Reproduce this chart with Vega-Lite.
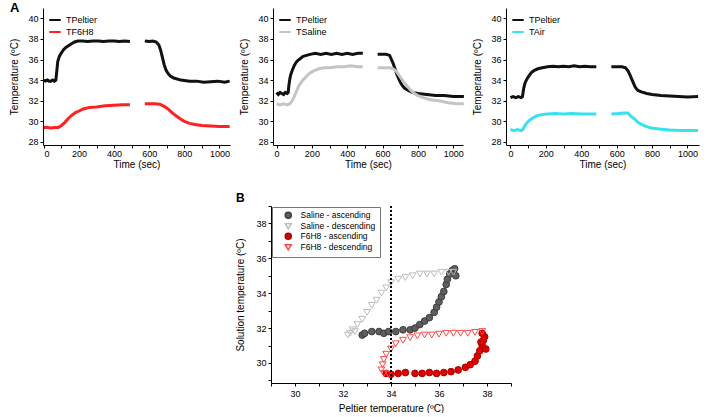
{
  "$schema": "https://vega.github.io/schema/vega-lite/v6.json",
  "padding": {"left": 9, "top": 2, "right": 0, "bottom": 0},
  "background": "white",
  "config": {
    "font": "Liberation Sans",
    "view": {"stroke": null},
    "axis": {"grid": false, "domainColor": "#000", "tickColor": "#000", "labelColor": "#000", "titleColor": "#000", "labelFontSize": 9, "titleFontSize": 10, "titleFontWeight": "normal", "tickSize": 3, "labelPadding": 1},
    "legend": {"title": null, "labelFontSize": 9, "labelColor": "#000"}
  },
  "resolve": {"legend": {"color": "independent", "shape": "independent", "fill": "independent", "stroke": "independent"}, "scale": {"color": "independent", "shape": "independent", "fill": "independent", "stroke": "independent", "x": "independent", "y": "independent"}},
  "datasets": {
    "a1": [
      {"series":"TPeltier","part":1,"time":0,"temp":34.0},{"series":"TPeltier","part":1,"time":10,"temp":33.9},{"series":"TPeltier","part":1,"time":20,"temp":34.0},{"series":"TPeltier","part":1,"time":30,"temp":33.9},{"series":"TPeltier","part":1,"time":40,"temp":33.9},{"series":"TPeltier","part":1,"time":50,"temp":34.0},{"series":"TPeltier","part":1,"time":60,"temp":33.9},{"series":"TPeltier","part":1,"time":68,"temp":34.0},{"series":"TPeltier","part":1,"time":72,"temp":34.6},{"series":"TPeltier","part":1,"time":79,"temp":35.8},{"series":"TPeltier","part":1,"time":88,"temp":36.3},{"series":"TPeltier","part":1,"time":98,"temp":36.6},{"series":"TPeltier","part":1,"time":112,"temp":36.95},{"series":"TPeltier","part":1,"time":127,"temp":37.2},{"series":"TPeltier","part":1,"time":155,"temp":37.5},{"series":"TPeltier","part":1,"time":175,"temp":37.7},{"series":"TPeltier","part":1,"time":193,"temp":37.8},{"series":"TPeltier","part":1,"time":220,"temp":37.8},{"series":"TPeltier","part":1,"time":250,"temp":37.75},{"series":"TPeltier","part":1,"time":280,"temp":37.8},{"series":"TPeltier","part":1,"time":310,"temp":37.8},{"series":"TPeltier","part":1,"time":340,"temp":37.75},{"series":"TPeltier","part":1,"time":370,"temp":37.8},{"series":"TPeltier","part":1,"time":400,"temp":37.8},{"series":"TPeltier","part":1,"time":430,"temp":37.75},{"series":"TPeltier","part":1,"time":460,"temp":37.8},{"series":"TPeltier","part":1,"time":490,"temp":37.75},
      {"series":"TPeltier","part":2,"time":575,"temp":37.8},{"series":"TPeltier","part":2,"time":600,"temp":37.75},{"series":"TPeltier","part":2,"time":620,"temp":37.8},{"series":"TPeltier","part":2,"time":640,"temp":37.7},{"series":"TPeltier","part":2,"time":655,"temp":37.4},{"series":"TPeltier","part":2,"time":665,"temp":36.9},{"series":"TPeltier","part":2,"time":675,"temp":36.2},{"series":"TPeltier","part":2,"time":685,"temp":35.5},{"series":"TPeltier","part":2,"time":695,"temp":35.0},{"series":"TPeltier","part":2,"time":705,"temp":34.7},{"series":"TPeltier","part":2,"time":720,"temp":34.4},{"series":"TPeltier","part":2,"time":740,"temp":34.2},{"series":"TPeltier","part":2,"time":780,"temp":34.0},{"series":"TPeltier","part":2,"time":830,"temp":33.9},{"series":"TPeltier","part":2,"time":870,"temp":33.9},{"series":"TPeltier","part":2,"time":910,"temp":33.8},{"series":"TPeltier","part":2,"time":950,"temp":33.85},{"series":"TPeltier","part":2,"time":990,"temp":33.9},{"series":"TPeltier","part":2,"time":1030,"temp":33.8},{"series":"TPeltier","part":2,"time":1058,"temp":33.9},
      {"series":"TF6H8","part":1,"time":0,"temp":29.4},{"series":"TF6H8","part":1,"time":20,"temp":29.4},{"series":"TF6H8","part":1,"time":40,"temp":29.35},{"series":"TF6H8","part":1,"time":60,"temp":29.4},{"series":"TF6H8","part":1,"time":82,"temp":29.4},{"series":"TF6H8","part":1,"time":100,"temp":29.6},{"series":"TF6H8","part":1,"time":120,"temp":29.9},{"series":"TF6H8","part":1,"time":140,"temp":30.3},{"series":"TF6H8","part":1,"time":160,"temp":30.6},{"series":"TF6H8","part":1,"time":180,"temp":30.85},{"series":"TF6H8","part":1,"time":200,"temp":31.0},{"series":"TF6H8","part":1,"time":225,"temp":31.2},{"series":"TF6H8","part":1,"time":259,"temp":31.35},{"series":"TF6H8","part":1,"time":300,"temp":31.4},{"series":"TF6H8","part":1,"time":350,"temp":31.5},{"series":"TF6H8","part":1,"time":400,"temp":31.55},{"series":"TF6H8","part":1,"time":446,"temp":31.6},{"series":"TF6H8","part":1,"time":490,"temp":31.6},
      {"series":"TF6H8","part":2,"time":575,"temp":31.7},{"series":"TF6H8","part":2,"time":600,"temp":31.7},{"series":"TF6H8","part":2,"time":630,"temp":31.7},{"series":"TF6H8","part":2,"time":660,"temp":31.65},{"series":"TF6H8","part":2,"time":680,"temp":31.5},{"series":"TF6H8","part":2,"time":700,"temp":31.3},{"series":"TF6H8","part":2,"time":720,"temp":31.0},{"series":"TF6H8","part":2,"time":740,"temp":30.7},{"series":"TF6H8","part":2,"time":760,"temp":30.45},{"series":"TF6H8","part":2,"time":780,"temp":30.2},{"series":"TF6H8","part":2,"time":800,"temp":30.0},{"series":"TF6H8","part":2,"time":830,"temp":29.8},{"series":"TF6H8","part":2,"time":860,"temp":29.7},{"series":"TF6H8","part":2,"time":900,"temp":29.6},{"series":"TF6H8","part":2,"time":950,"temp":29.55},{"series":"TF6H8","part":2,"time":1000,"temp":29.5},{"series":"TF6H8","part":2,"time":1058,"temp":29.5}
    ],
    "a2": [
      {"series":"TPeltier","part":1,"time":0,"temp":32.8},{"series":"TPeltier","part":1,"time":10,"temp":32.6},{"series":"TPeltier","part":1,"time":20,"temp":32.8},{"series":"TPeltier","part":1,"time":30,"temp":32.7},{"series":"TPeltier","part":1,"time":40,"temp":32.6},{"series":"TPeltier","part":1,"time":50,"temp":32.8},{"series":"TPeltier","part":1,"time":60,"temp":32.7},{"series":"TPeltier","part":1,"time":66,"temp":32.8},{"series":"TPeltier","part":1,"time":70,"temp":33.5},{"series":"TPeltier","part":1,"time":75,"temp":34.1},{"series":"TPeltier","part":1,"time":80,"temp":34.5},{"series":"TPeltier","part":1,"time":90,"temp":35.0},{"series":"TPeltier","part":1,"time":100,"temp":35.4},{"series":"TPeltier","part":1,"time":110,"temp":35.7},{"series":"TPeltier","part":1,"time":120,"temp":35.9},{"series":"TPeltier","part":1,"time":135,"temp":36.1},{"series":"TPeltier","part":1,"time":150,"temp":36.3},{"series":"TPeltier","part":1,"time":170,"temp":36.4},{"series":"TPeltier","part":1,"time":190,"temp":36.5},{"series":"TPeltier","part":1,"time":220,"temp":36.6},{"series":"TPeltier","part":1,"time":250,"temp":36.5},{"series":"TPeltier","part":1,"time":280,"temp":36.6},{"series":"TPeltier","part":1,"time":310,"temp":36.5},{"series":"TPeltier","part":1,"time":340,"temp":36.6},{"series":"TPeltier","part":1,"time":370,"temp":36.5},{"series":"TPeltier","part":1,"time":400,"temp":36.6},{"series":"TPeltier","part":1,"time":430,"temp":36.5},{"series":"TPeltier","part":1,"time":460,"temp":36.6},{"series":"TPeltier","part":1,"time":488,"temp":36.6},
      {"series":"TPeltier","part":2,"time":572,"temp":36.5},{"series":"TPeltier","part":2,"time":600,"temp":36.5},{"series":"TPeltier","part":2,"time":620,"temp":36.5},{"series":"TPeltier","part":2,"time":640,"temp":36.4},{"series":"TPeltier","part":2,"time":650,"temp":36.0},{"series":"TPeltier","part":2,"time":660,"temp":35.6},{"series":"TPeltier","part":2,"time":670,"temp":35.1},{"series":"TPeltier","part":2,"time":680,"temp":34.6},{"series":"TPeltier","part":2,"time":690,"temp":34.2},{"series":"TPeltier","part":2,"time":700,"temp":33.8},{"series":"TPeltier","part":2,"time":710,"temp":33.5},{"series":"TPeltier","part":2,"time":725,"temp":33.2},{"series":"TPeltier","part":2,"time":745,"temp":33.0},{"series":"TPeltier","part":2,"time":770,"temp":32.8},{"series":"TPeltier","part":2,"time":800,"temp":32.7},{"series":"TPeltier","part":2,"time":850,"temp":32.6},{"series":"TPeltier","part":2,"time":900,"temp":32.5},{"series":"TPeltier","part":2,"time":950,"temp":32.5},{"series":"TPeltier","part":2,"time":1000,"temp":32.4},{"series":"TPeltier","part":2,"time":1060,"temp":32.4},
      {"series":"TSaline","part":1,"time":0,"temp":31.7},{"series":"TSaline","part":1,"time":20,"temp":31.6},{"series":"TSaline","part":1,"time":40,"temp":31.7},{"series":"TSaline","part":1,"time":60,"temp":31.6},{"series":"TSaline","part":1,"time":75,"temp":31.7},{"series":"TSaline","part":1,"time":85,"temp":31.9},{"series":"TSaline","part":1,"time":95,"temp":32.2},{"series":"TSaline","part":1,"time":105,"temp":32.6},{"series":"TSaline","part":1,"time":115,"temp":33.0},{"series":"TSaline","part":1,"time":125,"temp":33.4},{"series":"TSaline","part":1,"time":140,"temp":33.8},{"series":"TSaline","part":1,"time":155,"temp":34.1},{"series":"TSaline","part":1,"time":170,"temp":34.4},{"series":"TSaline","part":1,"time":190,"temp":34.7},{"series":"TSaline","part":1,"time":210,"temp":34.9},{"series":"TSaline","part":1,"time":240,"temp":35.1},{"series":"TSaline","part":1,"time":270,"temp":35.2},{"series":"TSaline","part":1,"time":300,"temp":35.2},{"series":"TSaline","part":1,"time":340,"temp":35.3},{"series":"TSaline","part":1,"time":380,"temp":35.3},{"series":"TSaline","part":1,"time":420,"temp":35.4},{"series":"TSaline","part":1,"time":460,"temp":35.3},{"series":"TSaline","part":1,"time":488,"temp":35.3},
      {"series":"TSaline","part":2,"time":572,"temp":35.2},{"series":"TSaline","part":2,"time":610,"temp":35.2},{"series":"TSaline","part":2,"time":640,"temp":35.2},{"series":"TSaline","part":2,"time":660,"temp":35.1},{"series":"TSaline","part":2,"time":680,"temp":34.8},{"series":"TSaline","part":2,"time":700,"temp":34.3},{"series":"TSaline","part":2,"time":720,"temp":33.8},{"series":"TSaline","part":2,"time":740,"temp":33.4},{"series":"TSaline","part":2,"time":760,"temp":33.0},{"series":"TSaline","part":2,"time":780,"temp":32.7},{"series":"TSaline","part":2,"time":800,"temp":32.5},{"series":"TSaline","part":2,"time":830,"temp":32.3},{"series":"TSaline","part":2,"time":870,"temp":32.1},{"series":"TSaline","part":2,"time":920,"temp":32.0},{"series":"TSaline","part":2,"time":970,"temp":31.8},{"series":"TSaline","part":2,"time":1020,"temp":31.7},{"series":"TSaline","part":2,"time":1060,"temp":31.7}
    ],
    "a3": [
      {"series":"TPeltier","part":1,"time":0,"temp":32.3},{"series":"TPeltier","part":1,"time":15,"temp":32.4},{"series":"TPeltier","part":1,"time":30,"temp":32.3},{"series":"TPeltier","part":1,"time":45,"temp":32.4},{"series":"TPeltier","part":1,"time":60,"temp":32.3},{"series":"TPeltier","part":1,"time":68,"temp":32.4},{"series":"TPeltier","part":1,"time":75,"temp":33.2},{"series":"TPeltier","part":1,"time":82,"temp":33.7},{"series":"TPeltier","part":1,"time":90,"temp":34.0},{"series":"TPeltier","part":1,"time":100,"temp":34.3},{"series":"TPeltier","part":1,"time":117,"temp":34.7},{"series":"TPeltier","part":1,"time":135,"temp":34.95},{"series":"TPeltier","part":1,"time":155,"temp":35.1},{"series":"TPeltier","part":1,"time":180,"temp":35.2},{"series":"TPeltier","part":1,"time":210,"temp":35.3},{"series":"TPeltier","part":1,"time":240,"temp":35.35},{"series":"TPeltier","part":1,"time":270,"temp":35.3},{"series":"TPeltier","part":1,"time":300,"temp":35.35},{"series":"TPeltier","part":1,"time":330,"temp":35.3},{"series":"TPeltier","part":1,"time":360,"temp":35.4},{"series":"TPeltier","part":1,"time":390,"temp":35.3},{"series":"TPeltier","part":1,"time":420,"temp":35.35},{"series":"TPeltier","part":1,"time":450,"temp":35.3},{"series":"TPeltier","part":1,"time":485,"temp":35.3},
      {"series":"TPeltier","part":2,"time":570,"temp":35.3},{"series":"TPeltier","part":2,"time":600,"temp":35.3},{"series":"TPeltier","part":2,"time":630,"temp":35.3},{"series":"TPeltier","part":2,"time":650,"temp":35.2},{"series":"TPeltier","part":2,"time":664,"temp":34.9},{"series":"TPeltier","part":2,"time":675,"temp":34.5},{"series":"TPeltier","part":2,"time":685,"temp":34.1},{"series":"TPeltier","part":2,"time":695,"temp":33.7},{"series":"TPeltier","part":2,"time":705,"temp":33.3},{"series":"TPeltier","part":2,"time":720,"temp":33.0},{"series":"TPeltier","part":2,"time":740,"temp":32.85},{"series":"TPeltier","part":2,"time":770,"temp":32.7},{"series":"TPeltier","part":2,"time":800,"temp":32.6},{"series":"TPeltier","part":2,"time":850,"temp":32.5},{"series":"TPeltier","part":2,"time":900,"temp":32.45},{"series":"TPeltier","part":2,"time":950,"temp":32.4},{"series":"TPeltier","part":2,"time":1000,"temp":32.35},{"series":"TPeltier","part":2,"time":1060,"temp":32.4},
      {"series":"TAir","part":1,"time":0,"temp":29.2},{"series":"TAir","part":1,"time":20,"temp":29.1},{"series":"TAir","part":1,"time":40,"temp":29.2},{"series":"TAir","part":1,"time":60,"temp":29.1},{"series":"TAir","part":1,"time":70,"temp":29.2},{"series":"TAir","part":1,"time":79,"temp":29.5},{"series":"TAir","part":1,"time":90,"temp":29.8},{"series":"TAir","part":1,"time":108,"temp":30.1},{"series":"TAir","part":1,"time":125,"temp":30.3},{"series":"TAir","part":1,"time":145,"temp":30.5},{"series":"TAir","part":1,"time":175,"temp":30.65},{"series":"TAir","part":1,"time":210,"temp":30.7},{"series":"TAir","part":1,"time":250,"temp":30.75},{"series":"TAir","part":1,"time":300,"temp":30.7},{"series":"TAir","part":1,"time":350,"temp":30.75},{"series":"TAir","part":1,"time":400,"temp":30.7},{"series":"TAir","part":1,"time":450,"temp":30.7},{"series":"TAir","part":1,"time":485,"temp":30.7},
      {"series":"TAir","part":2,"time":570,"temp":30.7},{"series":"TAir","part":2,"time":610,"temp":30.75},{"series":"TAir","part":2,"time":640,"temp":30.8},{"series":"TAir","part":2,"time":664,"temp":30.8},{"series":"TAir","part":2,"time":680,"temp":30.5},{"series":"TAir","part":2,"time":702,"temp":30.2},{"series":"TAir","part":2,"time":720,"temp":29.9},{"series":"TAir","part":2,"time":740,"temp":29.7},{"series":"TAir","part":2,"time":765,"temp":29.5},{"series":"TAir","part":2,"time":796,"temp":29.35},{"series":"TAir","part":2,"time":840,"temp":29.25},{"series":"TAir","part":2,"time":900,"temp":29.15},{"series":"TAir","part":2,"time":960,"temp":29.1},{"series":"TAir","part":2,"time":1010,"temp":29.1},{"series":"TAir","part":2,"time":1060,"temp":29.1}
    ],
    "b": [
      {"series":"Saline - ascending","peltier":32.8,"solution":31.6},{"series":"Saline - ascending","peltier":32.9,"solution":31.7},{"series":"Saline - ascending","peltier":33.2,"solution":31.8},{"series":"Saline - ascending","peltier":33.5,"solution":31.8},{"series":"Saline - ascending","peltier":33.7,"solution":31.7},{"series":"Saline - ascending","peltier":33.9,"solution":31.8},{"series":"Saline - ascending","peltier":34.2,"solution":31.8},{"series":"Saline - ascending","peltier":34.5,"solution":31.9},{"series":"Saline - ascending","peltier":34.8,"solution":31.9},{"series":"Saline - ascending","peltier":35.0,"solution":32.0},{"series":"Saline - ascending","peltier":35.2,"solution":32.2},{"series":"Saline - ascending","peltier":35.4,"solution":32.4},{"series":"Saline - ascending","peltier":35.6,"solution":32.6},{"series":"Saline - ascending","peltier":35.8,"solution":32.9},{"series":"Saline - ascending","peltier":35.9,"solution":33.2},{"series":"Saline - ascending","peltier":36.0,"solution":33.5},{"series":"Saline - ascending","peltier":36.1,"solution":33.8},{"series":"Saline - ascending","peltier":36.2,"solution":34.1},{"series":"Saline - ascending","peltier":36.3,"solution":34.5},{"series":"Saline - ascending","peltier":36.35,"solution":34.8},{"series":"Saline - ascending","peltier":36.45,"solution":35.1},{"series":"Saline - ascending","peltier":36.55,"solution":35.3},{"series":"Saline - ascending","peltier":36.65,"solution":35.4},{"series":"Saline - ascending","peltier":36.7,"solution":35.0},
      {"series":"Saline - descending","peltier":36.6,"solution":35.2},{"series":"Saline - descending","peltier":36.4,"solution":35.2},{"series":"Saline - descending","peltier":36.1,"solution":35.2},{"series":"Saline - descending","peltier":35.8,"solution":35.1},{"series":"Saline - descending","peltier":35.5,"solution":35.1},{"series":"Saline - descending","peltier":35.2,"solution":35.1},{"series":"Saline - descending","peltier":34.9,"solution":35.0},{"series":"Saline - descending","peltier":34.6,"solution":34.9},{"series":"Saline - descending","peltier":34.3,"solution":34.8},{"series":"Saline - descending","peltier":34.0,"solution":34.6},{"series":"Saline - descending","peltier":33.8,"solution":34.3},{"series":"Saline - descending","peltier":33.6,"solution":34.0},{"series":"Saline - descending","peltier":33.4,"solution":33.6},{"series":"Saline - descending","peltier":33.2,"solution":33.3},{"series":"Saline - descending","peltier":33.0,"solution":32.9},{"series":"Saline - descending","peltier":32.8,"solution":32.5},{"series":"Saline - descending","peltier":32.6,"solution":32.2},{"series":"Saline - descending","peltier":32.4,"solution":31.9},{"series":"Saline - descending","peltier":32.3,"solution":31.7},{"series":"Saline - descending","peltier":32.2,"solution":31.6},{"series":"Saline - descending","peltier":32.5,"solution":31.8},
      {"series":"F6H8 - ascending","peltier":33.8,"solution":29.4},{"series":"F6H8 - ascending","peltier":34.0,"solution":29.35},{"series":"F6H8 - ascending","peltier":34.3,"solution":29.4},{"series":"F6H8 - ascending","peltier":34.6,"solution":29.45},{"series":"F6H8 - ascending","peltier":35.0,"solution":29.4},{"series":"F6H8 - ascending","peltier":35.3,"solution":29.4},{"series":"F6H8 - ascending","peltier":35.6,"solution":29.45},{"series":"F6H8 - ascending","peltier":35.9,"solution":29.4},{"series":"F6H8 - ascending","peltier":36.2,"solution":29.45},{"series":"F6H8 - ascending","peltier":36.5,"solution":29.5},{"series":"F6H8 - ascending","peltier":36.8,"solution":29.6},{"series":"F6H8 - ascending","peltier":37.1,"solution":29.75},{"series":"F6H8 - ascending","peltier":37.3,"solution":29.9},{"series":"F6H8 - ascending","peltier":37.5,"solution":30.1},{"series":"F6H8 - ascending","peltier":37.6,"solution":30.4},{"series":"F6H8 - ascending","peltier":37.7,"solution":30.7},{"series":"F6H8 - ascending","peltier":37.8,"solution":31.0},{"series":"F6H8 - ascending","peltier":37.85,"solution":31.3},{"series":"F6H8 - ascending","peltier":37.9,"solution":31.5},{"series":"F6H8 - ascending","peltier":37.8,"solution":31.7},{"series":"F6H8 - ascending","peltier":37.95,"solution":30.8},{"series":"F6H8 - ascending","peltier":37.75,"solution":31.2},
      {"series":"F6H8 - descending","peltier":37.8,"solution":31.8},{"series":"F6H8 - descending","peltier":37.5,"solution":31.75},{"series":"F6H8 - descending","peltier":37.2,"solution":31.7},{"series":"F6H8 - descending","peltier":36.9,"solution":31.7},{"series":"F6H8 - descending","peltier":36.6,"solution":31.7},{"series":"F6H8 - descending","peltier":36.3,"solution":31.7},{"series":"F6H8 - descending","peltier":36.0,"solution":31.65},{"series":"F6H8 - descending","peltier":35.7,"solution":31.6},{"series":"F6H8 - descending","peltier":35.4,"solution":31.6},{"series":"F6H8 - descending","peltier":35.1,"solution":31.55},{"series":"F6H8 - descending","peltier":34.8,"solution":31.45},{"series":"F6H8 - descending","peltier":34.5,"solution":31.3},{"series":"F6H8 - descending","peltier":34.2,"solution":31.1},{"series":"F6H8 - descending","peltier":34.0,"solution":30.8},{"series":"F6H8 - descending","peltier":33.8,"solution":30.5},{"series":"F6H8 - descending","peltier":33.7,"solution":30.2},{"series":"F6H8 - descending","peltier":33.65,"solution":29.9},{"series":"F6H8 - descending","peltier":33.6,"solution":29.6},{"series":"F6H8 - descending","peltier":33.7,"solution":29.4},{"series":"F6H8 - descending","peltier":33.9,"solution":29.35}
    ],
    "ref": [{"peltier": 34}]
  },
  "spacing": 23,
  "vconcat": [
    {
      "title": {"text": "A", "anchor": "start", "fontSize": 13, "fontWeight": "bold", "offset": -7, "color": "#000"},
      "columns": 3,
      "align": "none",
      "bounds": "flush",
      "spacing": 43,
      "resolve": {"scale": {"color": "independent", "x": "independent", "y": "independent"}, "legend": {"color": "independent"}},
      "concat": [
        {
          "width": 187, "height": 137,
          "data": {"name": "a1"},
          "mark": {"type": "line", "strokeWidth": 3},
          "encoding": {
            "x": {"field": "time", "type": "quantitative", "scale": {"domain": [-5, 1060], "nice": false}, "axis": {"title": "Time (sec)", "format": "d", "values": [0,100,200,300,400,500,600,700,800,900,1000], "labelExpr": "datum.value % 200 === 0 ? datum.label : ''", "tickSize": 3, "labelPadding": 1, "titlePadding": 1}},
            "y": {"field": "temp", "type": "quantitative", "scale": {"domain": [27.7, 41], "nice": false, "zero": false}, "axis": {"title": "Temperature (ºC)", "values": [28,30,32,34,36,38,40], "labelPadding": 2, "titlePadding": 8}},
            "color": {"field": "series", "type": "nominal", "scale": {"domain": ["TPeltier", "TF6H8"], "range": ["#111111", "#ff2020"]}, "legend": {"orient": "top-left", "offset": 5, "padding": 0, "symbolType": "stroke", "symbolSize": 130, "symbolStrokeWidth": 2, "rowPadding": 0, "labelOffset": 4}},
            "detail": {"field": "part", "type": "nominal"}
          }
        },
        {
          "width": 190, "height": 137,
          "data": {"name": "a2"},
          "mark": {"type": "line", "strokeWidth": 3},
          "encoding": {
            "x": {"field": "time", "type": "quantitative", "scale": {"domain": [-20, 1055], "nice": false}, "axis": {"title": "Time (sec)", "format": "d", "values": [0,100,200,300,400,500,600,700,800,900,1000], "labelExpr": "datum.value % 200 === 0 ? datum.label : ''", "tickSize": 3, "labelPadding": 1, "titlePadding": 1}},
            "y": {"field": "temp", "type": "quantitative", "scale": {"domain": [27.7, 41], "nice": false, "zero": false}, "axis": {"title": "Temperature (ºC)", "values": [28,30,32,34,36,38,40], "labelPadding": 2, "titlePadding": 8}},
            "color": {"field": "series", "type": "nominal", "scale": {"domain": ["TPeltier", "TSaline"], "range": ["#111111", "#c4c4c4"]}, "legend": {"orient": "top-left", "offset": 5, "padding": 0, "symbolType": "stroke", "symbolSize": 130, "symbolStrokeWidth": 2, "rowPadding": 0, "labelOffset": 4}},
            "detail": {"field": "part", "type": "nominal"}
          }
        },
        {
          "width": 193, "height": 137,
          "data": {"name": "a3"},
          "mark": {"type": "line", "strokeWidth": 3},
          "encoding": {
            "x": {"field": "time", "type": "quantitative", "scale": {"domain": [-25, 1065], "nice": false}, "axis": {"title": "Time (sec)", "format": "d", "values": [0,100,200,300,400,500,600,700,800,900,1000], "labelExpr": "datum.value % 200 === 0 ? datum.label : ''", "tickSize": 3, "labelPadding": 1, "titlePadding": 1}},
            "y": {"field": "temp", "type": "quantitative", "scale": {"domain": [27.7, 41], "nice": false, "zero": false}, "axis": {"title": "Temperature (ºC)", "values": [28,30,32,34,36,38,40], "labelPadding": 2, "titlePadding": 8}},
            "color": {"field": "series", "type": "nominal", "scale": {"domain": ["TPeltier", "TAir"], "range": ["#111111", "#38e2ec"]}, "legend": {"orient": "top-left", "offset": 5, "padding": 0, "symbolType": "stroke", "symbolSize": 130, "symbolStrokeWidth": 2, "rowPadding": 0, "labelOffset": 4}},
            "detail": {"field": "part", "type": "nominal"}
          }
        }
      ]
    },
    {
      "columns": 2,
      "align": "none",
      "bounds": "flush",
      "spacing": 0,
      "resolve": {"legend": {"shape": "independent", "fill": "independent", "stroke": "independent"}},
      "concat": [
        {"width": 228, "height": 20, "data": {"values": []}, "mark": "point"},
        {
          "title": {"text": "B", "anchor": "start", "fontSize": 12, "fontWeight": "bold", "offset": -3, "color": "#000"},
          "width": 240, "height": 177,
          "resolve": {"axis": {"x": "independent"}},
          "layer": [
            {
              "data": {"name": "b"},
              "mark": {"type": "point", "filled": false, "size": 45, "strokeWidth": 1, "fillOpacity": 1, "strokeOpacity": 1},
              "encoding": {
                "x": {"field": "peltier", "type": "quantitative", "scale": {"domain": [29, 39], "nice": false, "zero": false}, "axis": {"title": "Peltier temperature (ºC)", "values": [29,30,31,32,33,34,35,36,37,38,39], "labelExpr": "datum.value % 2 === 0 ? datum.label : ''", "labelOverlap": false, "labelPadding": 3, "titlePadding": 5}},
                "y": {"field": "solution", "type": "quantitative", "scale": {"domain": [28.85, 39], "nice": false, "zero": false}, "axis": {"title": "Solution temperature (ºC)", "values": [29,30,31,32,33,34,35,36,37,38,39], "labelExpr": "datum.value % 2 === 0 ? datum.label : ''", "labelOverlap": false, "labelPadding": 2, "titlePadding": 10}},
                "shape": {"field": "series", "type": "nominal", "scale": {"domain": ["Saline - ascending", "Saline - descending", "F6H8 - ascending", "F6H8 - descending"], "range": ["circle", "triangle-down", "circle", "triangle-down"]}, "legend": {"orient": "top-left", "offset": 1, "padding": 4, "strokeColor": "#777", "symbolOffset": 8, "labelOffset": 8, "rowPadding": -3, "symbolSize": 36, "labelFontSize": 8.5}},
                "fill": {"field": "series", "type": "nominal", "scale": {"domain": ["Saline - ascending", "Saline - descending", "F6H8 - ascending", "F6H8 - descending"], "range": ["#5e5e5e", "transparent", "#e00000", "transparent"]}, "legend": {"orient": "top-left", "offset": 1, "padding": 4, "strokeColor": "#777", "symbolOffset": 8, "labelOffset": 8, "rowPadding": -3, "symbolSize": 36, "labelFontSize": 8.5}},
                "stroke": {"field": "series", "type": "nominal", "scale": {"domain": ["Saline - ascending", "Saline - descending", "F6H8 - ascending", "F6H8 - descending"], "range": ["#3c3c3c", "#bdbdbd", "#a80000", "#ff4a4a"]}, "legend": {"orient": "top-left", "offset": 1, "padding": 4, "strokeColor": "#777", "symbolOffset": 8, "labelOffset": 8, "rowPadding": -3, "symbolSize": 36, "labelFontSize": 8.5}}
              }
            },
            {
              "data": {"name": "ref"},
              "mark": {"type": "rule", "strokeDash": [2, 2], "strokeWidth": 2, "color": "#000"},
              "encoding": {"x": {"field": "peltier", "type": "quantitative", "axis": null}}
            }
          ]
        }
      ]
    }
  ]
}
